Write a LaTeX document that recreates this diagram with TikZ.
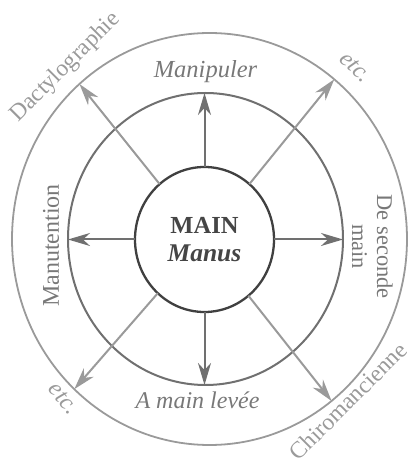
\documentclass[tikz,border=0pt]{standalone}
\usepackage{fontspec}
\setmainfont{Liberation Serif}
\usetikzlibrary{shapes.geometric,arrows.meta}
\definecolor{cin}{HTML}{404040}
\definecolor{ctitle}{HTML}{454545}
\definecolor{cmid}{HTML}{707070}
\definecolor{cout}{HTML}{9A9A9A}
\definecolor{ctxt}{HTML}{787878}
\begin{document}
\begin{tikzpicture}[x=1pt,y=1pt,
  ring/.style={ellipse, outer sep=0pt, inner sep=0pt},
  carrow/.style={draw=cmid, line width=2pt, -{Stealth[length=22pt,width=13pt,inset=7pt]}},
  darrow/.style={draw=cout, line width=2pt, -{Stealth[length=22pt,width=13pt,inset=7pt]}},
  ilabel/.style={text=ctxt, font=\fontsize{24}{28}\selectfont\itshape, inner sep=0pt},
  olabel/.style={text=cout, font=\fontsize{23.5}{28}\selectfont, inner sep=0pt},
]
\useasboundingbox (0,0) rectangle (411,464);
\node[ring, draw=cout, line width=1.8pt, minimum width=395pt, minimum height=412pt] (outer) at (209.5,225) {};
\node[ring, draw=cmid, line width=2pt, minimum width=275pt, minimum height=292pt] (mid) at (205.5,225) {};
\node[ring, draw=cin, line width=2.3pt, minimum width=139pt, minimum height=145pt, align=center, text=ctitle, font=\fontsize{24.5}{28}\selectfont] (main) at (204.5,224.5) {{\bfseries MAIN}\\{\fontsize{25.5}{28}\selectfont\bfseries\itshape Manus}};
% cardinal arrows
\draw[carrow] (main.north) -- (main.north |- mid.north);
\draw[carrow] (main.south) -- (main.south |- mid.south);
\draw[carrow] (main.west) -- (main.west -| mid.west);
\draw[carrow] (main.east) -- (main.east -| mid.east);
% diagonal arrows
\draw[darrow] (main.129) -- (outer.130);
\draw[darrow] (main.51) -- (outer.52);
\draw[darrow] (main.229) -- (outer.228);
\draw[darrow] (main.308) -- (outer.307);
% inner ring labels
\node[ilabel, font=\fontsize{24.5}{28}\selectfont\itshape, anchor=base] (manip) at (205.5,386) {Manipuler};
\node[ilabel, anchor=base] (levee) at (197.5,55) {A main levée};
\node[ilabel, font=\fontsize{24}{28}\selectfont, anchor=base, rotate=90] (manut) at (59,218.5) {Manutention};
\node[ilabel, font=\fontsize{22.5}{25}\selectfont, align=center, rotate=-90] (dsm) at (372.2,217.3) {De seconde\\main};
% outer ring labels
\node[olabel, rotate=45] (dact) at (65.5,396.5) {Dactylographie};
\node[olabel, rotate=45] (chiro) at (348,63) {Chiromancienne};
\node[olabel, font=\fontsize{24}{28}\selectfont\itshape, rotate=-45] (etca) at (355.5,396.5) {etc.};
\node[olabel, font=\fontsize{24}{28}\selectfont\itshape, rotate=-49] (etcb) at (63.5,65.5) {etc.};
\end{tikzpicture}
\end{document}
